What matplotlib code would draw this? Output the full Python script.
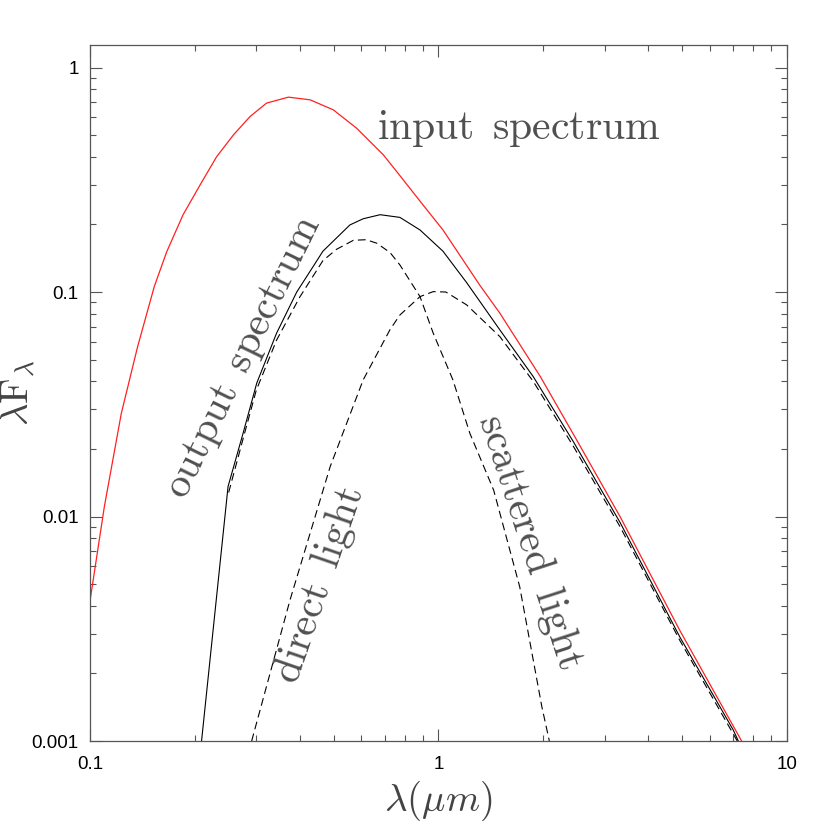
import matplotlib
matplotlib.use("Agg")
import matplotlib.pyplot as plt
from matplotlib.ticker import FixedLocator, FuncFormatter, LogLocator, NullFormatter

plt.rcParams["mathtext.fontset"] = "cm"

# input spectrum (red)
wl_input = [0.1, 0.110, 0.123, 0.137, 0.153, 0.166, 0.185, 0.207, 0.231, 0.258,
            0.288, 0.321, 0.371, 0.428, 0.499, 0.582, 0.695, 0.775, 0.885, 1.03,
            1.315, 1.50, 1.96, 2.46, 3.32, 4.93, 7.41]
f_input = [0.0042, 0.0111, 0.0288, 0.0571, 0.106, 0.151, 0.221, 0.300, 0.401, 0.501,
           0.605, 0.694, 0.738, 0.718, 0.648, 0.537, 0.408, 0.330, 0.254, 0.189,
           0.107, 0.0805, 0.042, 0.0227, 0.00998, 0.0031, 0.001]

# output spectrum (solid black)
wl_output = [0.209, 0.249, 0.275, 0.301, 0.343, 0.392, 0.437, 0.466, 0.557, 0.608,
             0.68, 0.775, 0.885, 1.03, 1.205, 1.50, 1.87, 2.44, 3.32, 4.93,
             7.01, 7.25]
f_output = [0.001, 0.0136, 0.0235, 0.0393, 0.0655, 0.100, 0.130, 0.152, 0.199, 0.212,
            0.221, 0.215, 0.189, 0.152, 0.110, 0.0678, 0.042, 0.0215, 0.0094, 0.0029,
            0.00112, 0.001]

# scattered light (dashed, peaks near 0.6 micron)
wl_scat = [0.25, 0.275, 0.30, 0.343, 0.40, 0.466, 0.51, 0.57, 0.62, 0.665,
           0.726, 0.775, 0.885, 0.966, 1.10, 1.23, 1.44, 1.71, 1.98, 2.08]
f_scat = [0.0128, 0.0222, 0.0365, 0.061, 0.095, 0.138, 0.155, 0.170, 0.171, 0.165,
          0.150, 0.132, 0.0954, 0.0655, 0.0406, 0.0235, 0.0131, 0.00487, 0.00142, 0.001]

# direct light (dashed, peaks near 1 micron)
wl_direct = [0.291, 0.375, 0.489, 0.608, 0.726, 0.775, 0.885, 0.966, 1.05, 1.205,
             1.50, 1.87, 2.44, 3.32, 4.93, 7.2]
f_direct = [0.001, 0.00425, 0.0167, 0.0406, 0.068, 0.079, 0.0954, 0.1004, 0.100, 0.0876,
            0.0633, 0.040, 0.0205, 0.0090, 0.0028, 0.001]

y_ticks = [0.001, 0.01, 0.1, 1]
x_ticks = [0.1, 1, 10]

fig = plt.figure(figsize=(8.3, 8.3), dpi=100)
ax = fig.add_axes([0.1084, 0.1072, 0.8398, 0.8386])

ax.plot(wl_input, f_input, color="#ff2020", lw=0.9)
ax.plot(wl_output, f_output, color="black", lw=0.8)
ax.plot(wl_scat, f_scat, color="black", lw=0.8, dashes=(7, 4))
ax.plot(wl_direct, f_direct, color="black", lw=0.8, dashes=(7, 4))

ax.set_xscale("log")
ax.set_yscale("log")
ax.set_xlim(0.1, 10)
ax.set_ylim(0.001, 1.26)

fmt = FuncFormatter(lambda v, pos: "%g" % v)
ax.xaxis.set_major_locator(FixedLocator(x_ticks))
ax.yaxis.set_major_locator(FixedLocator(y_ticks))
ax.xaxis.set_major_formatter(fmt)
ax.yaxis.set_major_formatter(fmt)
ax.xaxis.set_minor_locator(LogLocator(subs=range(2, 10)))
ax.yaxis.set_minor_locator(LogLocator(subs=range(2, 10)))
ax.xaxis.set_minor_formatter(NullFormatter())
ax.yaxis.set_minor_formatter(NullFormatter())

grey = "#555555"
ax.tick_params(which="both", direction="in", top=True, right=True,
               color=grey, width=0.8, labelsize=13.5)
ax.tick_params(which="major", length=8.6)
ax.tick_params(which="minor", length=4.3)
ax.tick_params(axis="x", pad=11)
ax.tick_params(axis="y", pad=8)
for lab in ax.get_xticklabels() + ax.get_yticklabels():
    lab.set_fontfamily("Liberation Sans")
for sp in ax.spines.values():
    sp.set_color(grey)
    sp.set_linewidth(0.9)

ax.set_xlabel(r"$\lambda(\mu m)$", fontsize=28, color="#444444", labelpad=4)
ax.set_ylabel(r"$\lambda \mathrm{F}_\lambda$", fontsize=28, color="#444444")
ax.yaxis.set_label_coords(-0.075, 0.5)

txt = dict(fontsize=30, color="#505050", ha="center", va="center")
ax.text(0.615, 0.881, r"$\mathrm{input\ \,spectrum}$", transform=ax.transAxes, **txt)
ax.text(0.2195, 0.552, r"$\mathrm{output\ \,spectrum}$", transform=ax.transAxes,
        rotation=64, **txt)
ax.text(0.33, 0.224, r"$\mathrm{direct\ \,light}$", transform=ax.transAxes,
        rotation=71, **txt)
ax.text(0.631, 0.286, r"$\mathrm{scattered\ \,light}$", transform=ax.transAxes,
        rotation=-72, **txt)

fig.savefig("out.png", dpi=100)
